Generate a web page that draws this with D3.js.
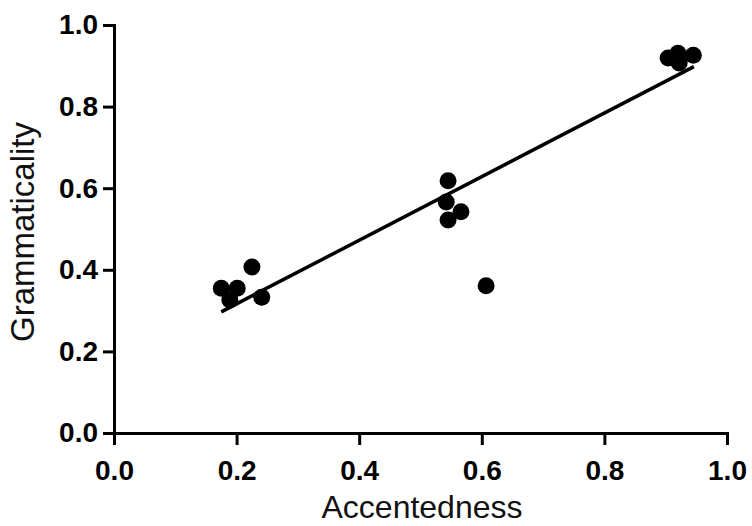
<!DOCTYPE html>
<html>
<head>
<meta charset="utf-8">
<script src="https://cdn.jsdelivr.net/npm/d3@7"></script>
<style>
html,body{margin:0;padding:0;background:#fff;}
svg{display:block;}
</style>
</head>
<body>
<svg id="chart" width="752" height="526"></svg>
<script>
// Data
const accentedness = [0.175, 0.201, 0.189, 0.225, 0.241,
                      0.545, 0.542, 0.566, 0.545, 0.607,
                      0.904, 0.920, 0.922, 0.945];
const grammaticality = [0.355, 0.355, 0.326, 0.407, 0.333,
                        0.618, 0.566, 0.542, 0.522, 0.361,
                        0.919, 0.931, 0.907, 0.926];
// fitted regression line endpoints (as drawn)
const fitX = [0.175, 0.946];
const fitY = [0.297, 0.898];
const tickValues = [0, 0.2, 0.4, 0.6, 0.8, 1.0];
const xTitle = "Accentedness";
const yTitle = "Grammaticality";

const svg = d3.select("#chart");
const x = d3.scaleLinear().domain([0, 1]).range([114, 727]);
const y = d3.scaleLinear().domain([0, 1]).range([433, 25]);
const fmt = d3.format(".1f");

const xAxis = d3.axisBottom(x).tickValues(tickValues).tickFormat(fmt)
  .tickSizeInner(12).tickSizeOuter(0).tickPadding(15);
const yAxis = d3.axisLeft(y).tickValues(tickValues).tickFormat(fmt)
  .tickSizeInner(11).tickSizeOuter(0).tickPadding(5);

const gx = svg.append("g").attr("transform", `translate(0,${y(0)})`).call(xAxis);
const gy = svg.append("g").attr("transform", `translate(${x(0)},0)`).call(yAxis);

[gx, gy].forEach(g => {
  g.select(".domain").attr("stroke", "#000").attr("stroke-width", 3).attr("stroke-linecap", "square");
  g.selectAll(".tick line").attr("stroke", "#000").attr("stroke-width", 3);
  g.selectAll(".tick text")
    .attr("fill", "#000")
    .style("font-family", "'Liberation Sans', Arial, sans-serif")
    .style("font-weight", "bold")
    .style("font-size", "28px");
});

// regression line
svg.append("line")
  .attr("x1", x(fitX[0])).attr("y1", y(fitY[0]))
  .attr("x2", x(fitX[1])).attr("y2", y(fitY[1]))
  .attr("stroke", "#000").attr("stroke-width", 3.5);

// points
const pts = accentedness.map((a, i) => ({a, g: grammaticality[i]}));
svg.append("g").selectAll("circle").data(pts).join("circle")
  .attr("cx", d => x(d.a)).attr("cy", d => y(d.g))
  .attr("r", 8.5).attr("fill", "#000");

// axis titles
svg.append("text")
  .attr("x", 422).attr("y", 518)
  .attr("text-anchor", "middle")
  .style("font-family", "'Liberation Sans', Arial, sans-serif")
  .style("font-size", "32px")
  .attr("fill", "#111")
  .text(xTitle);

svg.append("text")
  .attr("transform", "translate(34,232) rotate(-90)")
  .attr("text-anchor", "middle")
  .style("font-family", "'Liberation Sans', Arial, sans-serif")
  .style("font-size", "33px")
  .attr("fill", "#111")
  .text(yTitle);
</script>
</body>
</html>
